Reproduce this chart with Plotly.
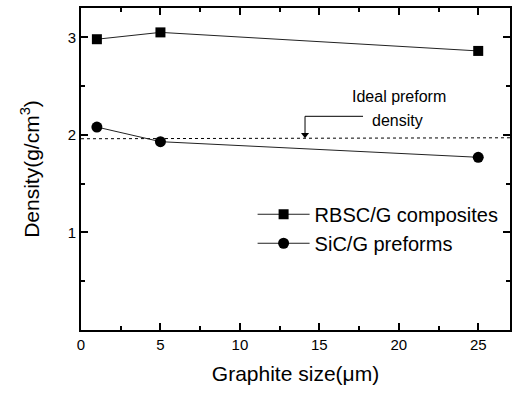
import plotly.graph_objects as go

graphite_size = [1, 5, 25]
rbsc_density = [2.98, 3.05, 2.86]
sic_density = [2.08, 1.93, 1.77]
ideal_x = [0, 27]
ideal_density = [1.96, 1.97]

font = "Liberation Sans, Arial, sans-serif"

fig = go.Figure()
fig.add_trace(go.Scatter(x=ideal_x, y=ideal_density, mode="lines",
                         line=dict(color="black", width=1, dash="dot"),
                         showlegend=False, hoverinfo="skip"))
fig.add_trace(go.Scatter(x=graphite_size, y=rbsc_density, mode="lines+markers",
                         name="RBSC/G composites",
                         line=dict(color="#222", width=1),
                         marker=dict(symbol="square", size=10, color="black")))
fig.add_trace(go.Scatter(x=graphite_size, y=sic_density, mode="lines+markers",
                         name="SiC/G preforms",
                         line=dict(color="#222", width=1),
                         marker=dict(symbol="circle", size=11, color="black")))

# bent arrow annotation
fig.add_shape(type="line", x0=14.1, x1=17.75, y0=2.19, y1=2.19,
              line=dict(color="black", width=1))
fig.add_shape(type="line", x0=14.1, x1=14.1, y0=2.19, y1=2.0,
              line=dict(color="black", width=1))
fig.add_trace(go.Scatter(x=[14.1], y=[2.0], mode="markers",
                         marker=dict(symbol="triangle-down", size=7, color="black"),
                         showlegend=False, hoverinfo="skip"))
fig.add_annotation(x=20.0, y=2.39, text="Ideal preform", showarrow=False,
                   font=dict(family=font, size=16, color="black"))
fig.add_annotation(x=19.9, y=2.15, text="density", showarrow=False,
                   font=dict(family=font, size=16, color="black"))

axis_common = dict(showgrid=False, zeroline=False, showline=True, linecolor="black",
                   linewidth=2, mirror="allticks", ticks="inside", ticklen=7,
                   tickwidth=1.5, tickcolor="black",
                   tickfont=dict(family=font, size=15, color="black"))
fig.update_xaxes(range=[0, 27], tickvals=[0, 5, 10, 15, 20, 25],
                 minor=dict(tickvals=[2.5, 7.5, 12.5, 17.5, 22.5], ticks="inside",
                            ticklen=4, tickcolor="black"),
                 title=dict(text="Graphite size(\u03bcm)", font=dict(family=font, size=21, color="black"),
                            standoff=14),
                 **axis_common)
fig.update_yaxes(range=[0, 3.3], tickvals=[1, 2, 3],
                 minor=dict(tickvals=[0.5, 1.5, 2.5], ticks="inside",
                            ticklen=4, tickcolor="black"),
                 title=dict(text="Density(g/cm<sup>3</sup>)", font=dict(family=font, size=21, color="black"),
                            standoff=22),
                 **axis_common)

fig.update_layout(width=517, height=393, margin=dict(l=81, r=5, t=8, b=63),
                  plot_bgcolor="white", paper_bgcolor="white",
                  legend=dict(x=0.40, y=0.42, xanchor="left", yanchor="top",
                              bgcolor="rgba(0,0,0,0)",
                              font=dict(family=font, size=20, color="black"),
                              itemwidth=52, tracegroupgap=0))

fig.write_html("out.html")
